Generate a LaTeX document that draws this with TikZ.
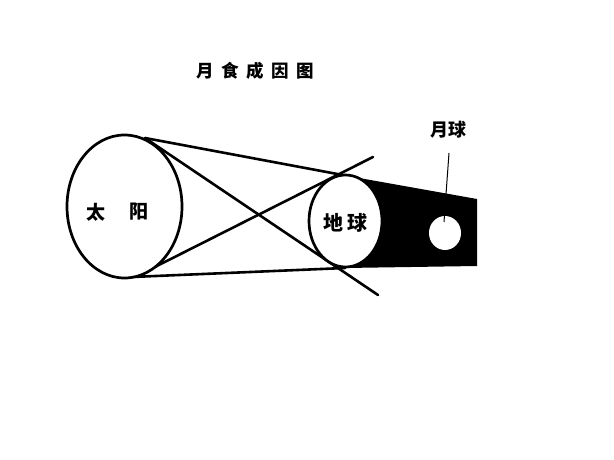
\documentclass[tikz,border=0pt]{standalone}
\usepackage{fontspec}
\newfontfamily\cjk{Noto Sans CJK SC}
\usetikzlibrary{shapes.geometric}
\begin{document}
\begin{tikzpicture}[x=1pt,y=-1pt,
  body/.style={ellipse,draw=black,line width=2.7pt,fill=white,inner sep=0pt},
  ray/.style={line width=2.6pt,line cap=round},
  lbl/.style={font=\cjk\bfseries\fontsize{19pt}{19pt}\selectfont,inner sep=0pt}]
\useasboundingbox[fill=white] (0,0) rectangle (614,460);
% tangent points
\coordinate (sunT) at (145,138);
\coordinate (sunB) at (132,277);
\coordinate (sunBx) at (139,275);
\coordinate (earT) at (348,176);
\coordinate (earB) at (345,268);
\coordinate (shTR) at (477,199);
\coordinate (shBR) at (477,266);
\coordinate (crossA) at (378,295);
\coordinate (crossB) at (373,157);
% shadow
\fill[black] (earT) -- (shTR) -- (shBR) -- (earB) -- cycle;
% rays
\draw[ray] (sunT) -- (earT);
\draw[ray] (sunB) -- (earB);
\draw[ray] (sunT) -- (crossA);
\draw[ray] (sunBx) -- (crossB);
% bodies
\node[body,minimum width=115pt,minimum height=143pt] (sun) at (124.5,206.5) {};
\node[body,minimum width=73pt,minimum height=92pt] (earth) at (345.5,221) {};
\node[ellipse,fill=white,inner sep=0pt,minimum width=32pt,minimum height=34pt] (moon) at (445,233) {};
% labels
\node[lbl] (tai) at (95.5,212) {太};
\node[lbl] (yang) at (139,212) {阳};
\node[lbl,font=\cjk\bfseries\fontsize{20pt}{20pt}\selectfont] (di) at (333,223) {地};
\node[lbl,font=\cjk\bfseries\fontsize{20pt}{20pt}\selectfont] (qiu) at (357,223) {球};
\node[lbl,font=\cjk\bfseries\fontsize{17.5pt}{17.5pt}\selectfont] (title) at (255,71) {月\kern7.5pt 食\kern7.5pt 成\kern7.5pt 因\kern7.5pt 图};
\node[lbl,font=\cjk\bfseries\fontsize{18pt}{18pt}\selectfont] (moonlbl) at (448.5,130) {月球};
\coordinate (ptrEnd) at (444,222);
\draw[line width=1pt] (449,153) -- (ptrEnd);
\end{tikzpicture}
\end{document}
